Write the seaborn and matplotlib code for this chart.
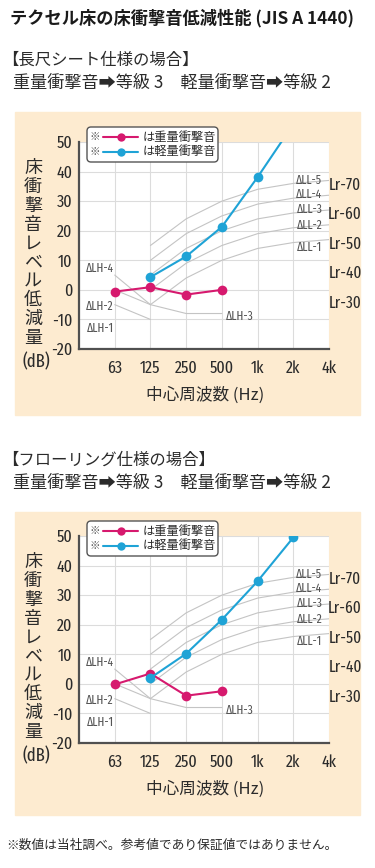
import matplotlib
matplotlib.use("Agg")
import matplotlib.pyplot as plt
import matplotlib.transforms as mtransforms
from matplotlib import font_manager
from matplotlib.patches import Rectangle, FancyBboxPatch
from matplotlib.lines import Line2D
import numpy as np
import pandas as pd
import seaborn as sns

# 周波数 (カテゴリ)
freq_labels = ["63", "125", "250", "500", "1k", "2k", "4k"]
heavy_freqs = ["63", "125", "250", "500"]
light_freqs = ["125", "250", "500", "1k", "2k"]

# 長尺シート仕様
sheet_heavy = [-0.6, 0.9, -1.6, 0.0]
sheet_light = [4.3, 11.3, 21.3, 38.1, 56.0]
# フローリング仕様
floor_heavy = [-0.2, 3.5, -4.0, -2.5]
floor_light = [2.0, 10.2, 21.7, 34.7, 49.5]

# 等級曲線 (軽量 ΔLL)
ll_freqs = ["125", "250", "500", "1k", "2k", "4k"]
ll_1 = [-5, 4, 10, 14, 16, 17]
ll_2 = [0, 9, 15, 19, 21, 22]
ll_3 = [5, 14, 20, 24, 26, 27]
ll_4 = [10, 19, 25, 29, 31, 32]
ll_5 = [15, 24, 30, 34, 36, 37]
ll_names = ["ΔLL-1", "ΔLL-2", "ΔLL-3", "ΔLL-4", "ΔLL-5"]
ll_label_y = [14.2, 21.9, 27.3, 32.3, 37.0]

# 等級曲線 (重量 ΔLH)
lh_freqs_short = ["63", "125"]
lh_freqs_long = ["63", "125", "250", "500"]
lh_2 = [-5, -10]
lh_3 = [0, -5, -8, -8]
lh_4 = [5, -5]

lr_names = ["Lr-70", "Lr-60", "Lr-50", "Lr-40", "Lr-30"]
lr_levels = [35.5, 25.5, 15.5, 5.5, -4.5]

yticks = [-20, -10, 0, 10, 20, 30, 40, 50]

W, H = 375, 868
BEIGE = "#fdebd0"
MAGENTA = "#d6196e"
BLUE = "#1fa3d6"
CURVE = "#c4c4c4"
GRID = "#dcdcdc"
TXT = "#2b2b2b"

sns.set_style("white")
JP = ["Noto Sans CJK JP", "DejaVu Sans"]
plt.rcParams["font.family"] = JP


# 数字用の細い書体を探す (なるべく幅の狭いもの)
def narrow_rank(f):
    key = (f.name + " " + f.fname).lower().replace(" ", "")
    if f.style != "normal" or f.weight not in (400, "normal", "regular"):
        return None
    if "liberationsansnarrow" in key:
        return 0
    if "extracondensed" in key:
        return 1
    if "semicondensed" in key:
        return 4
    if "condensed" in key:
        return 2 if "dejavu" not in key else 5
    if "narrow" in key:
        return 3
    return None


ranked = []
for f in font_manager.fontManager.ttflist:
    r = narrow_rank(f)
    if r is not None:
        ranked.append((r, f.fname))
ranked.sort()
if ranked and ranked[0][0] <= 3:
    NUM = font_manager.FontProperties(fname=ranked[0][1])
    SCALE = 1.0
elif ranked:
    NUM = font_manager.FontProperties(fname=ranked[0][1])
    SCALE = 0.88
else:
    NUM = font_manager.FontProperties(family="Liberation Sans")
    SCALE = 0.9


def num(size):
    p = NUM.copy()
    p.set_size(size * SCALE)
    return p


fig = plt.figure(figsize=(W / 100, H / 100), dpi=100)
px = mtransforms.IdentityTransform()


def fx(x):
    return x / W


def fy(y):
    return 1 - y / H


def pos(freqs):
    return [freq_labels.index(f) for f in freqs]


fig.text(fx(10), fy(18), "テクセル床の床衝撃音低減性能 (JIS A 1440)", fontsize=12.4,
         fontweight="bold", color="#1a1a1a", ha="left", va="center")


def draw_panel(off, aoff, heading, heavy, light):
    # 背景
    fig.patches.append(Rectangle((fx(15), fy(415 + off)), 345 / W, 303 / H,
                                 transform=fig.transFigure, color=BEIGE, zorder=-1))
    fig.text(fx(2), fy(60 + off), heading, fontsize=11.8, color=TXT, ha="left", va="center")
    fig.text(fx(13), fy(83 + off), "重量衝撃音➡等級 3　軽量衝撃音➡等級 2",
             fontsize=12.3, color=TXT, ha="left", va="center")

    top, bot = 142 + aoff, 349 + aoff
    ax = fig.add_axes([fx(79), fy(bot), 250 / W, (bot - top) / H])
    ax.set_facecolor("white")
    ax.set_xlim(-1, 6)
    ax.set_ylim(-20, 50)
    ax.set_xticks(range(7))
    ax.set_xticklabels(freq_labels)
    ax.set_yticks(yticks)
    ax.set_yticklabels([str(v) for v in yticks])
    ax.grid(True, color=GRID, lw=0.8)
    ax.set_axisbelow(True)
    for s in ["top", "right"]:
        ax.spines[s].set_visible(False)
    for s in ["left", "bottom"]:
        ax.spines[s].set_color("#505050")
        ax.spines[s].set_linewidth(1.6)
    ax.tick_params(length=0, colors=TXT)
    ax.tick_params(axis="y", pad=5)
    ax.tick_params(axis="x", pad=8)
    for lab in ax.get_xticklabels() + ax.get_yticklabels():
        lab.set_fontproperties(num(12.5))

    # 等級曲線
    for vals in [ll_1, ll_2, ll_3, ll_4, ll_5]:
        sns.lineplot(x=pos(ll_freqs), y=vals, color=CURVE, lw=0.8, ax=ax, zorder=2)
    sns.lineplot(x=pos(lh_freqs_short), y=lh_2, color=CURVE, lw=0.8, ax=ax, zorder=2)
    sns.lineplot(x=pos(lh_freqs_long), y=lh_3, color=CURVE, lw=0.8, ax=ax, zorder=2)
    sns.lineplot(x=pos(lh_freqs_short), y=lh_4, color=CURVE, lw=0.8, ax=ax, zorder=2)

    for name, y in zip(ll_names, ll_label_y):
        ax.text(5.45, y, name, fontproperties=num(9), color="#555555",
                ha="center", va="center")
    for name, xx, y in [("ΔLH-4", -0.41, 7.2), ("ΔLH-2", -0.41, -5.7),
                        ("ΔLH-1", -0.41, -13.0), ("ΔLH-3", 3.51, -9.0)]:
        ax.text(xx, y, name, fontproperties=num(9), color="#555555",
                ha="center", va="center")

    # 測定値
    sns.lineplot(x=pos(heavy_freqs), y=heavy, color=MAGENTA, lw=1.5, marker="o",
                 markersize=7, markeredgewidth=0, ax=ax, zorder=4)
    sns.lineplot(x=pos(light_freqs), y=light, color=BLUE, lw=1.5, marker="o",
                 markersize=7, markeredgewidth=0, ax=ax, zorder=5)

    # 右側 Lr
    ytr = ax.get_yaxis_transform()
    for name, lv in zip(lr_names, lr_levels):
        ax.text((345 - 79) / 250, lv, name, transform=ytr, fontproperties=num(12),
                color=TXT, ha="center", va="center", clip_on=False)

    # 縦書きラベル (1行1文字)
    fig.text(fx(33), fy(159 + aoff), "\n".join("床衝撃音レベル低減量"), fontsize=13,
             linespacing=1.06, color=TXT, ha="center", va="top")
    fig.text(fx(36), fy(362 + aoff), "(dB)", fontproperties=num(13), color=TXT,
             ha="center", va="center")
    fig.text(fx(205), fy(395 + aoff), "中心周波数 (Hz)", fontsize=12, color=TXT,
             ha="center", va="center")

    # 凡例
    ly1, ly2 = H - (137 + aoff), H - (152 + aoff)
    box = FancyBboxPatch((87, H - (162 + aoff)), 131, 35, boxstyle="round,pad=0,rounding_size=4",
                         transform=px, facecolor="white", edgecolor="#555555", lw=1.0, zorder=10)
    fig.patches.append(box)
    for yy, col, label in [(ly1, MAGENTA, "は重量衝撃音"), (ly2, BLUE, "は軽量衝撃音")]:
        fig.text(95, yy, "※", transform=px, fontsize=7.5, color="#555555",
                 ha="center", va="center", zorder=11)
        fig.lines.append(Line2D([103, 138], [yy, yy], transform=px, color=col, lw=1.5, zorder=11))
        fig.lines.append(Line2D([121], [yy], transform=px, color=col, marker="o",
                                markersize=6, markeredgewidth=0, zorder=12))
        fig.text(143, yy, label, transform=px, fontsize=8.8, color=TXT,
                 ha="left", va="center", zorder=11)
    return ax


draw_panel(0, 0, "【長尺シート仕様の場合】", sheet_heavy, sheet_light)
draw_panel(400, 394, "【フローリング仕様の場合】", floor_heavy, floor_light)

fig.text(fx(6), fy(845), "※数値は当社調べ。参考値であり保証値ではありません。",
         fontsize=9.2, color=TXT, ha="left", va="center")

fig.savefig("out.png", dpi=100, facecolor="white")
